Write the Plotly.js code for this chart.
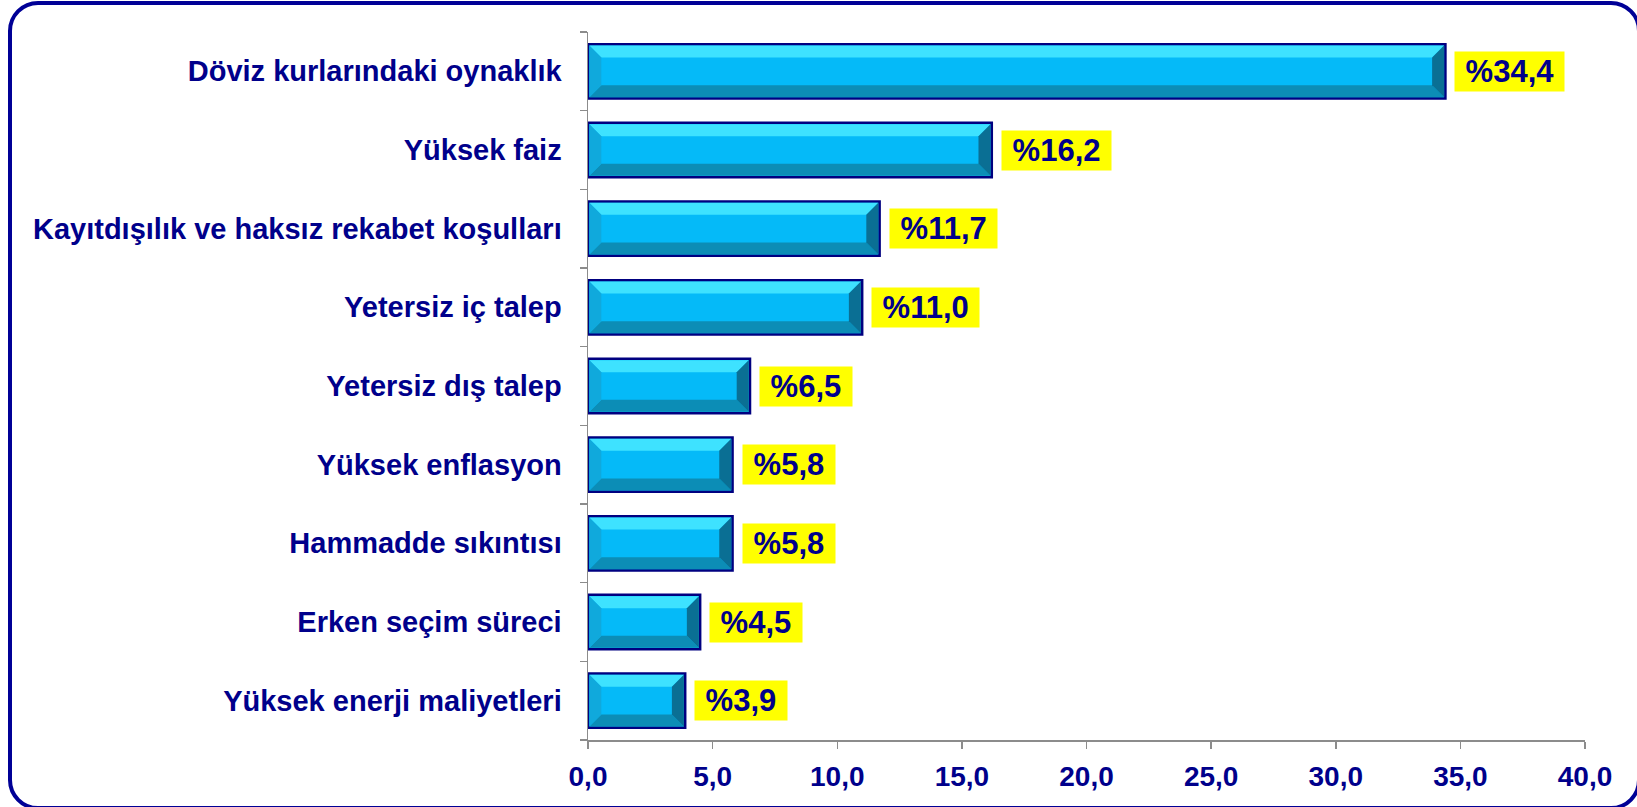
<!DOCTYPE html>
<html>
<head>
<meta charset="utf-8">
<script src="https://cdn.plot.ly/plotly-3.0.1.min.js"></script>
<style>
  html, body { margin: 0; padding: 0; background: #ffffff; overflow: hidden; }
  #wrap { position: relative; width: 1637px; height: 807px; }
  #chart { position: absolute; left: 0; top: 0; width: 1637px; height: 807px; }
  #frame {
    position: absolute; left: 8px; top: 1px; width: 1633px; height: 809px;
    box-sizing: border-box; border: 4px solid #000096; border-radius: 30px;
    pointer-events: none; z-index: 10;
  }
</style>
</head>
<body>
<div id="wrap">
  <div id="chart"></div>
  <div id="frame"></div>
</div>
<script>
// ---- data ----
const categories = [
  "Döviz kurlarındaki oynaklık",
  "Yüksek faiz",
  "Kayıtdışılık ve haksız rekabet koşulları",
  "Yetersiz iç talep",
  "Yetersiz dış talep",
  "Yüksek enflasyon",
  "Hammadde sıkıntısı",
  "Erken seçim süreci",
  "Yüksek enerji maliyetleri"
];
const values = [34.4, 16.2, 11.7, 11.0, 6.5, 5.8, 5.8, 4.5, 3.9];
const xTickVals = [0, 5, 10, 15, 20, 25, 30, 35, 40];

// ---- layout constants ----
const W = 1637, H = 807;
const M = { l: 588, r: 52, t: 32, b: 67 };
const xMax = 40;
const barWidth = 0.69;
const navy = "#00008B";
const font = "'Liberation Sans', Arial, sans-serif";

const idx = categories.map((c, i) => i);
const boundaries = categories.map((c, i) => i - 0.5).concat([categories.length - 0.5]);

const plotW = W - M.l - M.r, plotH = H - M.t - M.b;
const pxPerX = plotW / xMax, pxPerY = plotH / categories.length;
const bevelPx = 12, insetPx = 1.3;
const bx = bevelPx / pxPerX, by = bevelPx / pxPerY;
const ix = insetPx / pxPerX, iy = insetPx / pxPerY;

const shapes = [];
values.forEach((v, i) => {
  const h = barWidth / 2;
  const x0 = ix, x1 = v - ix, yT = i - h + iy, yB = i + h - iy;
  const poly = (pts, color) => shapes.push({
    type: "path", xref: "x", yref: "y", layer: "above",
    path: "M" + pts.map(p => p[0] + "," + p[1]).join(" L") + " Z",
    fillcolor: color, line: { width: 0 }
  });
  // top bevel
  poly([[x0, yT], [x1, yT], [x1 - bx, yT + by], [x0 + bx, yT + by]], "#3EE2FF");
  // bottom bevel
  poly([[x0, yB], [x1, yB], [x1 - bx, yB - by], [x0 + bx, yB - by]], "#0C8DB6");
  // left bevel
  poly([[x0, yT], [x0, yB], [x0 + bx, yB - by], [x0 + bx, yT + by]], "#10A9DC");
  // right bevel
  poly([[x1, yT], [x1, yB], [x1 - bx, yB - by], [x1 - bx, yT + by]], "#0A6F94");
});

const annotations = values.map((v, i) => ({
  x: v, y: i, xref: "x", yref: "y",
  xanchor: "left", yanchor: "middle", xshift: 9,
  text: "\u00a0%" + v.toFixed(1).replace(".", ",") + "\u00a0",
  showarrow: false,
  bgcolor: "#FFFF00", borderpad: 2,
  font: { family: font, size: 31, color: navy, weight: "bold" }
}));

const trace = {
  type: "bar", orientation: "h",
  x: values, y: idx, width: barWidth,
  marker: { color: "#05BAF8", line: { color: "#000080", width: 2.5 } },
  hoverinfo: "none"
};

const layout = {
  width: W, height: H,
  margin: M,
  paper_bgcolor: "#ffffff", plot_bgcolor: "#ffffff",
  showlegend: false,
  separators: ",.",
  font: { family: font, color: navy },
  xaxis: {
    range: [0, xMax], tickvals: xTickVals, tickformat: ".1f",
    showgrid: false, zeroline: false,
    showline: true, linecolor: "#8c8c8c", linewidth: 1.5,
    ticks: "outside", ticklen: 7, tickwidth: 1.5, tickcolor: "#8c8c8c",
    tickfont: { family: font, size: 28, color: navy, weight: "bold" },
    ticklabelstandoff: 4
  },
  yaxis: {
    range: [categories.length - 0.5, -0.5],
    tickmode: "array", tickvals: idx, ticktext: categories,
    ticks: "", showgrid: false, zeroline: false,
    showline: true, linecolor: "#8c8c8c", linewidth: 1.5,
    tickfont: { family: font, size: 29, color: navy, weight: "bold" },
    ticklabelstandoff: 19,
    minor: {
      tickmode: "array", tickvals: boundaries,
      ticks: "outside", ticklen: 7, tickwidth: 1.5, tickcolor: "#8c8c8c", showgrid: false
    }
  },
  shapes: shapes,
  annotations: annotations
};

Plotly.newPlot("chart", [trace], layout, { displayModeBar: false, staticPlot: true });
</script>
</body>
</html>
